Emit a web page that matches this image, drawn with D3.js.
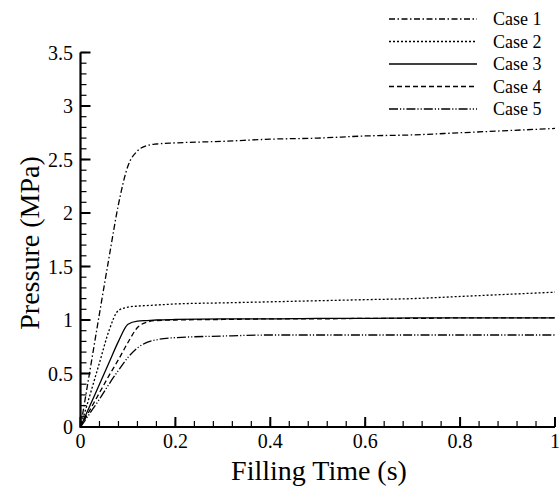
<!DOCTYPE html>
<html>

<head>
    <meta charset="utf-8" />
    <style>
        body {
            margin: 0;
            background-color: white;
        }
    </style>

    <script src="https://d3js.org/d3.v7.min.js"></script>
</head>

<body>
    <script>
        // sampled filling times (s)
        var times = [0, 0.02, 0.04, 0.06, 0.08, 0.1, 0.12, 0.14, 0.16, 0.2, 0.3, 0.4, 0.5, 0.6, 0.7, 0.8, 0.9, 1.0];

        // pressure (MPa) per case
        var case1 = [0, 0.53, 1.06, 1.58, 2.08, 2.44, 2.58, 2.63, 2.645, 2.655, 2.67, 2.69, 2.70, 2.72, 2.73, 2.75, 2.77, 2.79];
        var case2 = [0, 0.30, 0.60, 0.90, 1.09, 1.12, 1.13, 1.135, 1.14, 1.15, 1.16, 1.17, 1.18, 1.19, 1.20, 1.22, 1.24, 1.26];
        var case3 = [0, 0.20, 0.40, 0.60, 0.80, 0.96, 0.99, 0.995, 1.0, 1.005, 1.01, 1.01, 1.015, 1.015, 1.02, 1.02, 1.02, 1.02];
        var case4 = [0, 0.16, 0.32, 0.48, 0.63, 0.79, 0.93, 0.98, 0.995, 1.0, 1.005, 1.01, 1.01, 1.015, 1.015, 1.02, 1.02, 1.02];
        var case5 = [0, 0.13, 0.26, 0.40, 0.53, 0.65, 0.74, 0.79, 0.815, 0.835, 0.85, 0.86, 0.86, 0.86, 0.86, 0.86, 0.86, 0.86];

        var caseNames = ["Case 1", "Case 2", "Case 3", "Case 4", "Case 5"];
        var caseValues = [case1, case2, case3, case4, case5];
        var caseDashes = ["6,2.5,1.5,2.5", "2,2", null, "5,3", "9,2,1.2,2,1.2,2"];

        var xTicks = [0, 0.2, 0.4, 0.6, 0.8, 1];
        var yTicks = [0, 0.5, 1, 1.5, 2, 2.5, 3, 3.5];

        var width = 560,
            height = 488;
        var serif = "'Liberation Serif', 'Times New Roman', Times, 'DejaVu Serif', serif";

        var svg = d3.select("body").append("svg")
            .attr("width", width)
            .attr("height", height)
            .attr("font-family", serif);

        var x = d3.scaleLinear().domain([0, 1]).range([80.5, 555]);
        var y = d3.scaleLinear().domain([0, 3.5]).range([427, 52.5]);

        // minor ticks
        var xMinor = d3.range(0, 1.0001, 0.04);
        var yMinor = d3.range(0, 3.5001, 0.1);

        svg.selectAll(".xminor").data(xMinor).enter().append("line")
            .attr("x1", function (d) { return x(d); })
            .attr("x2", function (d) { return x(d); })
            .attr("y1", y(0)).attr("y2", y(0) - 6)
            .attr("stroke", "black").attr("stroke-width", 1.2);
        svg.selectAll(".yminor").data(yMinor).enter().append("line")
            .attr("y1", function (d) { return y(d); })
            .attr("y2", function (d) { return y(d); })
            .attr("x1", x(0)).attr("x2", x(0) + 6)
            .attr("stroke", "black").attr("stroke-width", 1.2);

        svg.selectAll(".xmajor").data(xTicks).enter().append("line")
            .attr("x1", function (d) { return x(d); })
            .attr("x2", function (d) { return x(d); })
            .attr("y1", y(0)).attr("y2", y(0) - 10)
            .attr("stroke", "black").attr("stroke-width", 2);
        svg.selectAll(".ymajor").data(yTicks).enter().append("line")
            .attr("y1", function (d) { return y(d); })
            .attr("y2", function (d) { return y(d); })
            .attr("x1", x(0)).attr("x2", x(0) + 10)
            .attr("stroke", "black").attr("stroke-width", 2);

        // axis lines
        svg.append("line")
            .attr("x1", x(0)).attr("x2", x(1))
            .attr("y1", y(0)).attr("y2", y(0))
            .attr("stroke", "black").attr("stroke-width", 2.2);
        svg.append("line")
            .attr("x1", x(0)).attr("x2", x(0))
            .attr("y1", y(0) + 1).attr("y2", y(3.5))
            .attr("stroke", "black").attr("stroke-width", 2.2);

        // tick labels
        svg.selectAll(".xlab").data(xTicks).enter().append("text")
            .attr("x", function (d) { return x(d); })
            .attr("y", 448)
            .attr("text-anchor", "middle")
            .attr("font-size", 20)
            .text(function (d) { return d; });
        svg.selectAll(".ylab").data(yTicks).enter().append("text")
            .attr("x", 73)
            .attr("y", function (d) { return y(d) + 7; })
            .attr("text-anchor", "end")
            .attr("font-size", 20)
            .text(function (d) { return d; });

        // axis titles
        svg.append("text")
            .attr("x", 319).attr("y", 480)
            .attr("text-anchor", "middle")
            .attr("font-size", 28)
            .text("Filling Time (s)");
        svg.append("text")
            .attr("transform", "translate(39,243)rotate(-90)")
            .attr("text-anchor", "middle")
            .attr("font-size", 28)
            .text("Pressure (MPa)");

        // curves
        var line = d3.line()
            .x(function (d, i) { return x(times[i]); })
            .y(function (d) { return y(d); })
            .curve(d3.curveMonotoneX);

        caseValues.forEach(function (vals, i) {
            svg.append("path")
                .attr("d", line(vals))
                .attr("fill", "none")
                .attr("stroke", "black")
                .attr("stroke-width", 1.3)
                .attr("stroke-dasharray", caseDashes[i]);
        });

        // legend
        var legend = svg.append("g");
        caseNames.forEach(function (name, i) {
            var ly = 19 + i * 22.5;
            legend.append("line")
                .attr("x1", 389).attr("x2", 477)
                .attr("y1", ly).attr("y2", ly)
                .attr("stroke", "black")
                .attr("stroke-width", 1.3)
                .attr("stroke-dasharray", caseDashes[i]);
            legend.append("text")
                .attr("x", 493).attr("y", ly + 6)
                .attr("font-size", 18)
                .text(name);
        });
    </script>
</body>

</html>
